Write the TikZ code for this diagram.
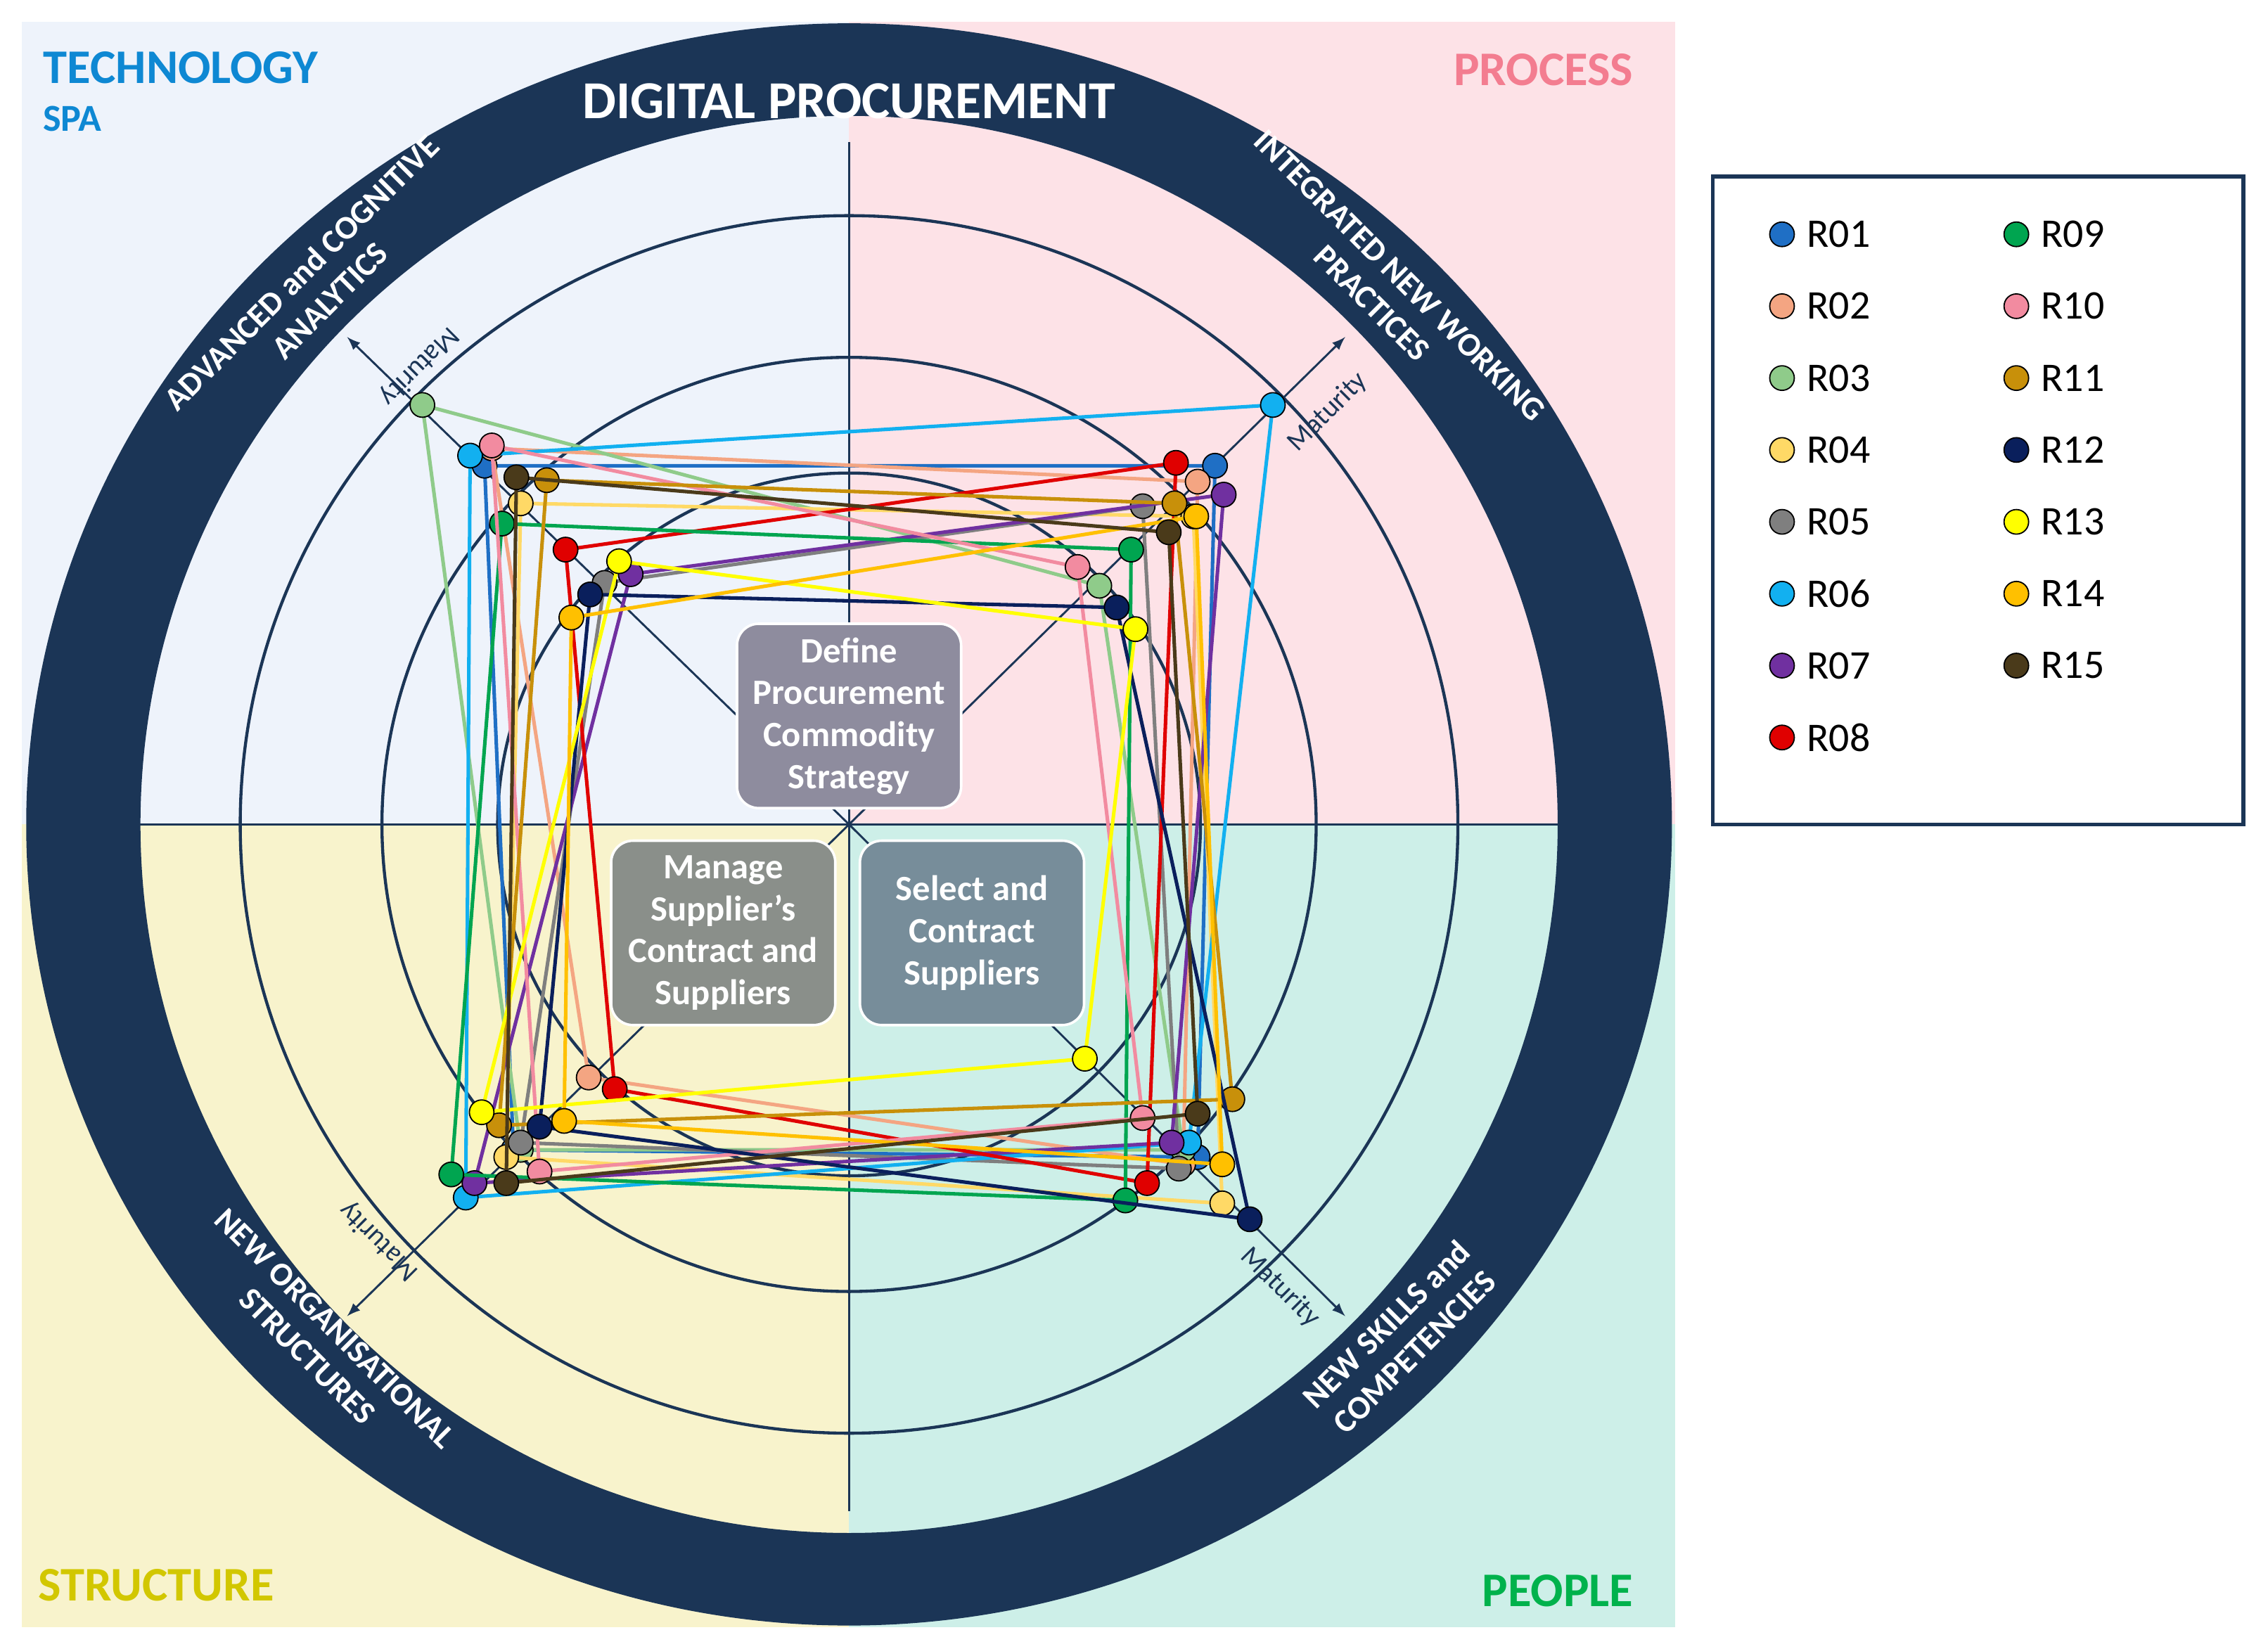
\documentclass[tikz,border=0pt]{standalone}
\usepackage{fontspec}
\setmainfont{Carlito}
\begin{document}
\definecolor{ring}{HTML}{1B3556}
\definecolor{qtech}{HTML}{EEF3FB}\definecolor{qproc}{HTML}{FDE2E7}
\definecolor{qstru}{HTML}{F8F3CC}\definecolor{qpeop}{HTML}{CDEFE8}
\definecolor{bx1}{HTML}{8E8C9E}\definecolor{bx2}{HTML}{8A8F8A}\definecolor{bx3}{HTML}{778D9A}
\definecolor{r01}{HTML}{1F6FC5}\definecolor{r02}{HTML}{F4A582}\definecolor{r03}{HTML}{8FCB8A}
\definecolor{r04}{HTML}{FFD966}\definecolor{r05}{HTML}{7F7F7F}\definecolor{r06}{HTML}{12B0F0}
\definecolor{r07}{HTML}{7030A0}\definecolor{r08}{HTML}{E00000}\definecolor{r09}{HTML}{00A550}
\definecolor{r10}{HTML}{F28BA0}\definecolor{r11}{HTML}{C8900A}\definecolor{r12}{HTML}{0A1F5C}
\definecolor{r13}{HTML}{FFFF00}\definecolor{r14}{HTML}{FFC000}\definecolor{r15}{HTML}{4A3A1A}
\begin{tikzpicture}[x=0.02cm,y=-0.02cm,
  mk/.style={circle,draw=black,line width=0.5pt,fill=#1,inner sep=0pt,minimum size=0.34cm},
  box/.style={rounded corners=0.3cm,minimum width=3.1cm,minimum height=2.55cm,align=center,text=white,font=\bfseries\fontsize{14}{16.5}\selectfont,draw=white,line width=1pt},
  ringtxt/.style={text=white,font=\bfseries\fontsize{13}{15.5}\selectfont,align=center},
  mat/.style={font=\fontsize{11}{13}\selectfont,text=ring},
  leg/.style={font=\fontsize{16}{19}\selectfont,anchor=west},
  ql/.style={font=\bfseries\fontsize{19}{22}\selectfont}]
\useasboundingbox (0,0) rectangle (1568,1140);
\fill[white] (0,0) rectangle (1568,1140);
\fill[qtech] (15,15) rectangle (587,570);
\fill[qproc] (587,15) rectangle (1158,570);
\fill[qstru] (15,570) rectangle (587,1125);
\fill[qpeop] (587,570) rectangle (1158,1125);
\coordinate (O) at (587,570);
\fill[ring,even odd rule] (O) ellipse [x radius=11.38cm,y radius=11.08cm] (O) circle[radius=9.8cm];
\foreach \r in {8.42,6.46,4.86} \draw[ring,line width=1.2pt] (O) circle[radius=\r cm];
\draw[ring,line width=0.8pt] (587,98) -- (587,1045) (95,570) -- (1080,570);
\foreach \e in {(240,233),(930,233),(930,910),(240,910)} \draw[ring,line width=0.8pt,-latex] (O) -- \e;
\node[mat,rotate=-135] (m1) at (290,253) {Maturity};
\node[mat,rotate=45] (m2) at (918,285) {Maturity};
\node[mat,rotate=-45] (m3) at (885,890) {Maturity};
\node[mat,rotate=135] (m4) at (262,858) {Maturity};
\node[ringtxt,font=\bfseries\fontsize{21}{25}\selectfont] (t) at (587,70) {DIGITAL PROCUREMENT};
\node[ringtxt,rotate=45] (a1) at (218,198) {ADVANCED and COGNITIVE\\ANALYTICS};
\node[ringtxt,rotate=-45] (a2) at (958,200) {INTEGRATED NEW WORKING\\PRACTICES};
\node[ringtxt,rotate=45] (a3) at (968,925) {NEW SKILLS and\\COMPETENCIES};
\node[ringtxt,rotate=-45] (a4) at (222,928) {NEW ORGANISATIONAL\\STRUCTURES};
\node[box,fill=bx1] (b1) at (587,495) {Define\\Procurement\\Commodity\\Strategy};
\node[box,fill=bx2] (b2) at (500,645) {Manage\\Supplier's\\Contract and\\Suppliers};
\node[box,fill=bx3] (b3) at (672,645) {Select and\\Contract\\Suppliers};
\node[ql,text=cyan!70!blue] (q1) at (125,47) {TECHNOLOGY};
\node[ql,font=\bfseries\fontsize{15}{18}\selectfont,text=cyan!70!blue] (q1b) at (50,82) {SPA};
\node[ql,text=r10!90!red] (q2) at (1067,48) {PROCESS};
\node[ql,text=yellow!60!olive] (q3) at (108,1096) {STRUCTURE};
\node[ql,text=teal!60!green] (q4) at (1077,1100) {PEOPLE};
\foreach \c/\p/\q/\r/\s in {
r01/{335,322}/{840,322}/{828,800}/{355,795},
r02/{340,310}/{828,333}/{818,805}/{407,745},
r03/{292,280}/{760,405}/{818,795}/{360,795},
r04/{360,348}/{825,357}/{845,832}/{350,800},
r05/{418,403}/{790,350}/{815,808}/{360,790},
r06/{325,315}/{880,280}/{822,790}/{322,828},
r07/{436,397}/{846,342}/{810,790}/{328,818},
r08/{391,380}/{813,320}/{793,818}/{425,753},
r09/{347,362}/{782,380}/{778,830}/{312,812},
r10/{340,308}/{745,392}/{790,773}/{373,810},
r11/{378,332}/{812,348}/{852,760}/{345,778},
r12/{408,411}/{772,420}/{864,843}/{373,779},
r13/{428,388}/{785,435}/{750,732}/{333,769},
r14/{395,427}/{827,357}/{845,805}/{390,775},
r15/{357,330}/{808,368}/{828,770}/{350,818}}{
  \draw[\c,line width=1.4pt,line join=round] (\p) -- (\q) -- (\r) -- (\s) -- cycle;
  \foreach \pt in {\p,\q,\r,\s} \node[mk=\c] at (\pt) {};
}
\draw[ring,line width=1.5pt] (1184,122) rectangle (1551,570);
\foreach \c/\n [count=\i] in {r01/R01,r02/R02,r03/R03,r04/R04,r05/R05,r06/R06,r07/R07,r08/R08}{
  \node[mk=\c] (l\n) at (1232,{162+(\i-1)*49.7}) {};
  \node[leg] at (1243,{162+(\i-1)*49.7}) {\n};}
\foreach \c/\n [count=\i] in {r09/R09,r10/R10,r11/R11,r12/R12,r13/R13,r14/R14,r15/R15}{
  \node[mk=\c] (l\n) at (1394,{162+(\i-1)*49.7}) {};
  \node[leg] at (1405,{162+(\i-1)*49.7}) {\n};}
\end{tikzpicture}
\end{document}
